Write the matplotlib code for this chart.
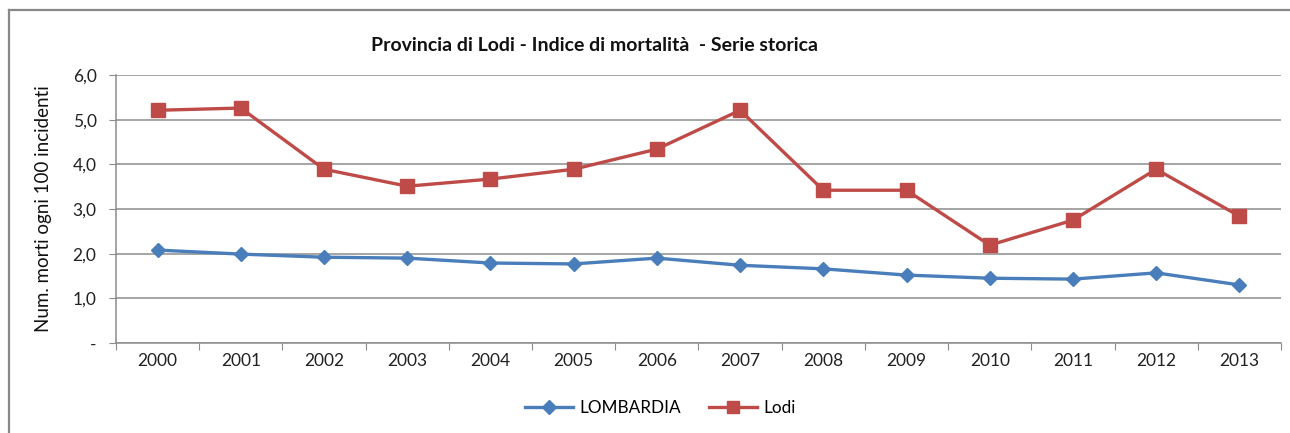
import matplotlib.pyplot as plt
import numpy as np
from matplotlib.lines import Line2D

years = ['2000', '2001', '2002', '2003', '2004', '2005', '2006',
         '2007', '2008', '2009', '2010', '2011', '2012', '2013']
lombardia = [2.08, 1.99, 1.92, 1.90, 1.79, 1.77, 1.90,
             1.74, 1.66, 1.52, 1.45, 1.43, 1.57, 1.30]
lodi = [5.21, 5.26, 3.89, 3.51, 3.67, 3.89, 4.34,
        5.21, 3.42, 3.42, 2.19, 2.75, 3.89, 2.84]
y_ticks = [0, 1, 2, 3, 4, 5, 6]
y_labels = ['-', '1,0', '2,0', '3,0', '4,0', '5,0', '6,0']

plt.rcParams['font.family'] = ['Lato', 'DejaVu Sans']

fig = plt.figure(figsize=(12.9, 4.33), dpi=100)
ax = fig.add_axes([0.0899, 0.2079, 0.9031, 0.6189])

x = np.arange(len(years))
blue = '#4a7ebb'
red = '#be4b48'

# series
ax.plot(x, lombardia, color=blue, linewidth=2.4, marker='D', markersize=7.5,
        label='LOMBARDIA', zorder=3)
ax.plot(x, lodi, color=red, linewidth=2.4, marker='s', markersize=10,
        label='Lodi', zorder=3)

# axes styling
ax.set_xlim(-0.5, len(years) - 0.5)
ax.set_ylim(0, 6)
ax.set_yticks(y_ticks)
ax.set_yticklabels(y_labels, fontsize=12.5, color='#222222')
ax.yaxis.grid(True, color='#8c8c8c', linewidth=1.1)
ax.set_axisbelow(True)

ax.set_xticks(np.arange(-0.5, len(years), 1.0))
ax.set_xticklabels([])
ax.set_xticks(x, minor=True)
ax.set_xticklabels(years, minor=True, fontsize=12.5, color='#222222')
ax.tick_params(axis='x', which='major', length=5, color='#8c8c8c', direction='out')
ax.tick_params(axis='x', which='minor', length=0, pad=7)
ax.tick_params(axis='y', length=5, color='#8c8c8c', pad=9)

for side in ['top', 'right']:
    ax.spines[side].set_visible(False)
for side in ['left', 'bottom']:
    ax.spines[side].set_color('#8c8c8c')
    ax.spines[side].set_linewidth(1.1)

ax.set_ylabel('Num. morti ogni 100 incidenti', fontsize=13.5, color='#111111', labelpad=15)

fig.text(0.461, 0.895, 'Provincia di Lodi - Indice di mortalità  - Serie storica',
         ha='center', va='center', fontsize=14, fontweight='bold', color='#111111')

handles = [
    Line2D([], [], color=blue, linewidth=2.4, marker='D', markersize=7),
    Line2D([], [], color=red, linewidth=2.4, marker='s', markersize=9),
]
fig.legend(handles, ['LOMBARDIA', 'Lodi'], loc='center', bbox_to_anchor=(0.512, 0.058),
           ncol=2, frameon=False, fontsize=12.3, handlelength=2.8, columnspacing=1.6,
           handletextpad=0.4)

# outer frame (left and top edges)
fig.add_artist(Line2D([0.0073, 0.0073], [0.0, 0.978], color='#888888', linewidth=1.6,
                      transform=fig.transFigure))
fig.add_artist(Line2D([0.0073, 1.0], [0.978, 0.978], color='#888888', linewidth=1.6,
                      transform=fig.transFigure))

fig.savefig('out.png', dpi=100)
